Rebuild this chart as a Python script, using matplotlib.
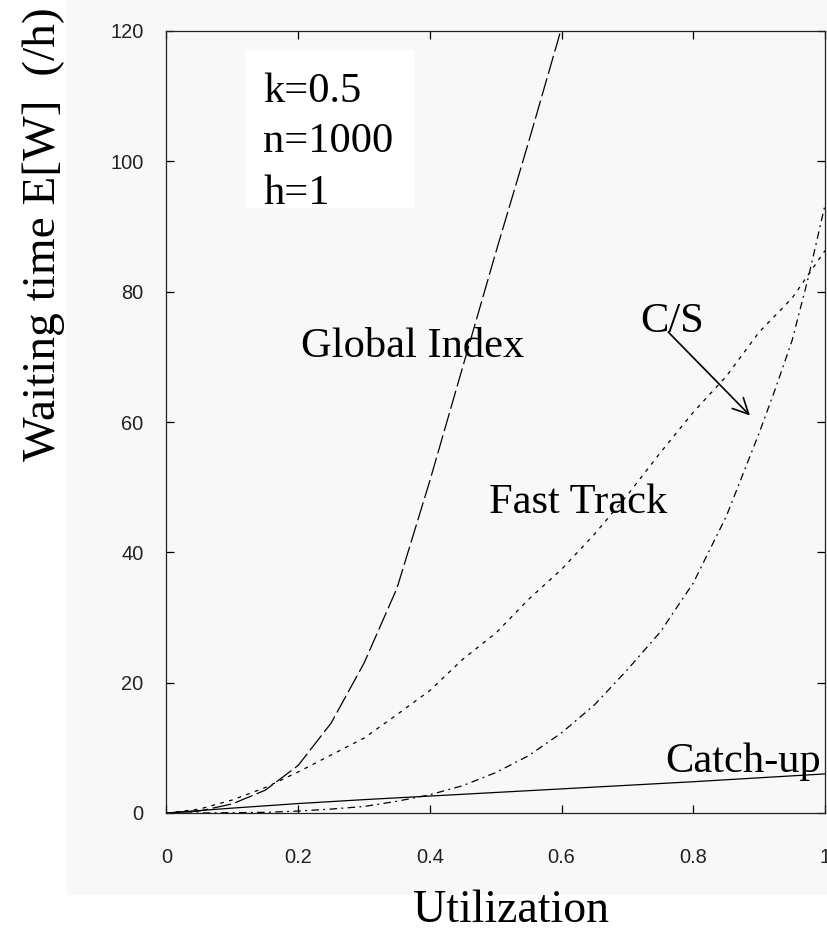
import matplotlib
matplotlib.use("Agg")
import matplotlib.pyplot as plt
from matplotlib.patches import Rectangle

# values
utilization = [0.0, 0.05, 0.10, 0.15, 0.20, 0.25, 0.30, 0.35, 0.40, 0.45, 0.50,
               0.55, 0.60, 0.65, 0.70, 0.75, 0.80, 0.85, 0.90, 0.95, 1.00]

global_index_x = [0.0, 0.05, 0.10, 0.15, 0.20, 0.25, 0.30, 0.35, 0.40, 0.45, 0.50, 0.55, 0.60]
global_index_y = [0.0, 0.3, 1.4, 3.5, 7.3, 13.8, 23.0, 34.5, 51.0, 68.5, 86.0, 103.0, 120.5]

fast_track_y = [0.0, 0.6, 2.0, 3.9, 6.3, 8.9, 11.5, 15.1, 18.8, 23.6, 27.6,
                32.8, 37.4, 42.8, 48.8, 55.3, 61.5, 67.0, 73.8, 79.0, 86.3]

cs_x = [0.0, 0.05, 0.10, 0.15, 0.20, 0.25, 0.30, 0.35, 0.40, 0.45, 0.50, 0.55,
        0.60, 0.65, 0.70, 0.75, 0.80, 0.85, 0.90, 0.925, 0.95, 0.975, 1.00]
cs_y = [0.0, 0.0, 0.05, 0.1, 0.3, 0.6, 1.0, 1.8, 2.8, 4.2, 6.2, 8.8,
        12.3, 16.6, 22.0, 27.8, 35.3, 45.5, 58.3, 65.2, 72.5, 82.3, 93.3]

catchup_x = [0.0, 0.1, 0.2, 0.3, 0.4, 0.5, 0.6, 0.7, 0.8, 0.9, 1.0]
catchup_y = [0.0, 0.75, 1.45, 2.05, 2.6, 3.15, 3.7, 4.25, 4.8, 5.4, 6.0]

x_ticks = [0, 0.2, 0.4, 0.6, 0.8, 1.0]
x_tick_labels = ["0", "0.2", "0.4", "0.6", "0.8", "1"]
y_ticks = [0, 20, 40, 60, 80, 100, 120]
params = ["k=0.5", "n=1000", "h=1"]

W, H = 828, 934
SERIF = ["Liberation Serif", "DejaVu Serif"]
BG = "#f8f8f8"

fig = plt.figure(figsize=(W / 100, H / 100), dpi=100)
fig.patch.set_facecolor("white")

# faint grey scan background behind everything
bg = fig.add_axes([67 / W, 1 - 895 / H, 1 - 67 / W, 895 / H], zorder=-10)
bg.axis("off")
bg.add_patch(Rectangle((0, 0), 1, 1, transform=bg.transAxes, color=BG, lw=0))

ax = fig.add_axes([166.5 / W, 1 - 813 / H, (825 - 166.5) / W, (813 - 31) / H])
ax.set_facecolor(BG)
ax.set_xlim(0, 1)
ax.set_ylim(0, 120)

# white box behind the parameters
ax.add_patch(Rectangle((0.119, 92.8), 0.258, 24.3, color="white", zorder=1, lw=0))

lw = 0.9
ax.plot(global_index_x, global_index_y, color="black", lw=lw,
        linestyle=(0, (15, 3.6)), zorder=3)
ax.plot(utilization, fast_track_y, color="black", lw=lw,
        linestyle=(0, (3, 4.3)), zorder=3)
ax.plot(cs_x, cs_y, color="black", lw=lw,
        linestyle=(0, (6, 3.5, 1.5, 3.5)), zorder=3)
ax.plot(catchup_x, catchup_y, color="black", lw=lw, zorder=3)

ax.set_xticks(x_ticks)
ax.set_xticklabels(x_tick_labels)
ax.set_yticks(y_ticks)
ax.tick_params(direction="in", length=6, width=0.9, top=True, right=True,
               labelsize=14.4, colors="black")
ax.tick_params(axis="y", pad=16.5)
ax.tick_params(axis="x", pad=25)
for lab in ax.get_xticklabels() + ax.get_yticklabels():
    lab.set_family(["Liberation Sans", "DejaVu Sans"])
    lab.set_color("#222222")
for sp in ax.spines.values():
    sp.set_linewidth(0.9)
    sp.set_color("#222222")

fs = 30.6
for i, txt in enumerate(params):
    ax.text(0.147, [109.1, 101.4, 93.5][i], txt, family=SERIF, fontsize=fs,
            va="baseline", ha="left", zorder=4)

ax.text(0.204, 69.9, "Global Index", family=SERIF, fontsize=fs, va="baseline", zorder=4)
ax.text(0.489, 46.0, "Fast Track", family=SERIF, fontsize=fs, va="baseline", zorder=4)
ax.text(0.757, 6.3, "Catch-up", family=SERIF, fontsize=fs, va="baseline", zorder=4)
ax.text(0.719, 73.8, "C/S", family=SERIF, fontsize=fs, va="baseline", zorder=4)
ax.annotate("", xy=(0.886, 61.0), xytext=(0.762, 73.8),
            arrowprops=dict(arrowstyle="->", lw=1.2, color="black",
                            mutation_scale=28, shrinkA=0, shrinkB=0), zorder=4)

fig.text(44 / W, 1 - 234 / H, "Waiting time E[W]  (/h)", family=SERIF,
         fontsize=34, rotation=90, ha="center", va="center")
fig.text(511 / W, 1 - 922 / H, "Utilization", family=SERIF, fontsize=33,
         ha="center", va="baseline")

fig.savefig("out.png", dpi=100, facecolor=fig.get_facecolor())
